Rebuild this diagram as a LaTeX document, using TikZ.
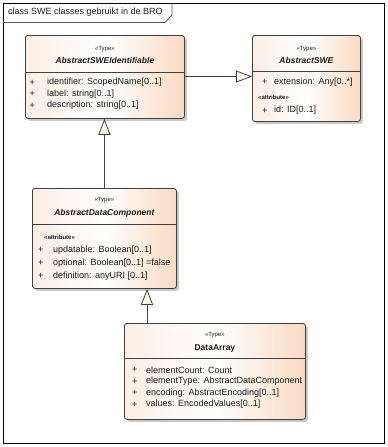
\documentclass[tikz,border=0pt]{standalone}
\usepackage{fontspec}
\setmainfont{Liberation Sans}
\usetikzlibrary{arrows.meta,positioning,calc,shadows}
\definecolor{peach}{HTML}{F9DAC2}
\definecolor{umlline}{HTML}{404040}
\definecolor{tricream}{HTML}{FDF6E6}
\definecolor{ink}{HTML}{1C1C1C}

\begin{document}
\begin{tikzpicture}[x=1pt, y=-1pt,
  cls/.style={draw=umlline, line width=0.8pt, rounded corners=2.5pt, anchor=north west, inner sep=0pt,
    left color=peach!45, right color=peach, middle color=white,
    drop shadow={shadow xshift=2.5pt, shadow yshift=-2.5pt, fill=black!30, opacity=0.7}},
  stereo/.style={inner sep=0pt, font=\fontsize{6}{7}\selectfont, text=ink},
  absname/.style={inner sep=0pt, font=\fontsize{8.5}{10}\selectfont\bfseries\itshape, text=ink},
  clsname/.style={inner sep=0pt, font=\fontsize{8.5}{10}\selectfont\bfseries, text=ink},
  attr/.style={inner sep=0pt, anchor=west, font=\fontsize{9}{10}\selectfont, text=ink},
  grp/.style={inner sep=0pt, anchor=west, font=\fontsize{6}{7}\selectfont\bfseries, text=ink},
  sep/.style={draw=umlline, line width=0.8pt},
  gen/.style={draw=umlline, line width=0.8pt, -{Triangle[length=16pt, width=12pt, fill=tricream]}}
]
\useasboundingbox (0,0) rectangle (388,447);

% frame and title tab
\node[inner sep=0pt, minimum width=381pt, minimum height=440pt, anchor=north west, draw=black, line width=1pt] (frame) at (3,3) {};
\node[inner sep=0pt, anchor=west, font=\fontsize{9}{10}\selectfont, text=ink] (title) at (8,12.5) {class SWE classes gebruikt in de BRO};
\draw[black!65, line width=0.8pt] (frame.north west |- 0,22.5) -- (165,22.5) -- (172,15) -- (172,3);

% classes
\node[cls, minimum width=159pt, minimum height=83pt] (ident) at (25,35) {};
\node[cls, minimum width=108pt, minimum height=86pt] (swe) at (252,35) {};
\node[cls, minimum width=144pt, minimum height=100pt] (comp) at (32,188) {};
\node[cls, minimum width=181pt, minimum height=96pt] (array) at (124,323) {};

% AbstractSWEIdentifiable
\node[stereo] (identst) at ($(ident.north)+(0,14)$) {«Type»};
\node[absname] (identnm) at ($(ident.north)+(0,25.5)$) {AbstractSWEIdentifiable};
\draw[sep] (ident.west |- 0,72) -- (ident.east |- 0,72);
\foreach \y/\t in {82.5/identifier: ScopedName[0..1], 94/label: string[0..1], 105.5/description: string[0..1]} {
  \node[attr] at (29.5,\y) {+};
  \node[attr] at (47,\y) {\t};
}

% AbstractSWE
\node[stereo] (swest) at ($(swe.north)+(0,14)$) {«Type»};
\node[absname] (swenm) at ($(swe.north)+(0,25.5)$) {AbstractSWE};
\draw[sep] (swe.west |- 0,71.5) -- (swe.east |- 0,71.5);
\node[attr] at (262,82) {+};
\node[attr] (ext) at (274,82) {extension: Any[0..*]};
\node[grp] (swegrp) at (258,97) {«attribute»};
\node[attr] at (262,110.5) {+};
\node[attr] (id) at (274,110.5) {id: ID[0..1]};

% AbstractDataComponent
\node[stereo] (compst) at ($(comp.north)+(0,12)$) {«Type»};
\node[absname] (compnm) at ($(comp.north)+(0,25)$) {AbstractDataComponent};
\draw[sep] (comp.west |- 0,224) -- (comp.east |- 0,224);
\node[grp] (compgrp) at (44,237) {«attribute»};
\foreach \y/\t in {250/updatable: Boolean[0..1], 263/optional: Boolean[0..1] =false, 276/definition: anyURI [0..1]} {
  \node[attr] at (38,\y) {+};
  \node[attr] at (53,\y) {\t};
}

% DataArray
\node[stereo] (arrayst) at ($(array.north)+(0,12)$) {«Type»};
\node[clsname] (arraynm) at ($(array.north)+(0,25)$) {DataArray};
\draw[sep] (array.west |- 0,358) -- (array.east |- 0,358);
\foreach \y/\t in {370/elementCount: Count, 381.5/elementType: AbstractDataComponent, 393/encoding: AbstractEncoding[0..1], 404.5/values: EncodedValues[0..1]} {
  \node[attr] at (132,\y) {+};
  \node[attr] at (146,\y) {\t};
}

% generalizations
\draw[gen] (ident.east |- 0,76.5) -- (swe.west |- 0,76.5);
\draw[gen] (comp.north) -- (comp.north |- ident.south);
\draw[gen] ([xshift=23pt]array.north west) -- ([xshift=23pt]array.north west |- comp.south);
\end{tikzpicture}
\end{document}
